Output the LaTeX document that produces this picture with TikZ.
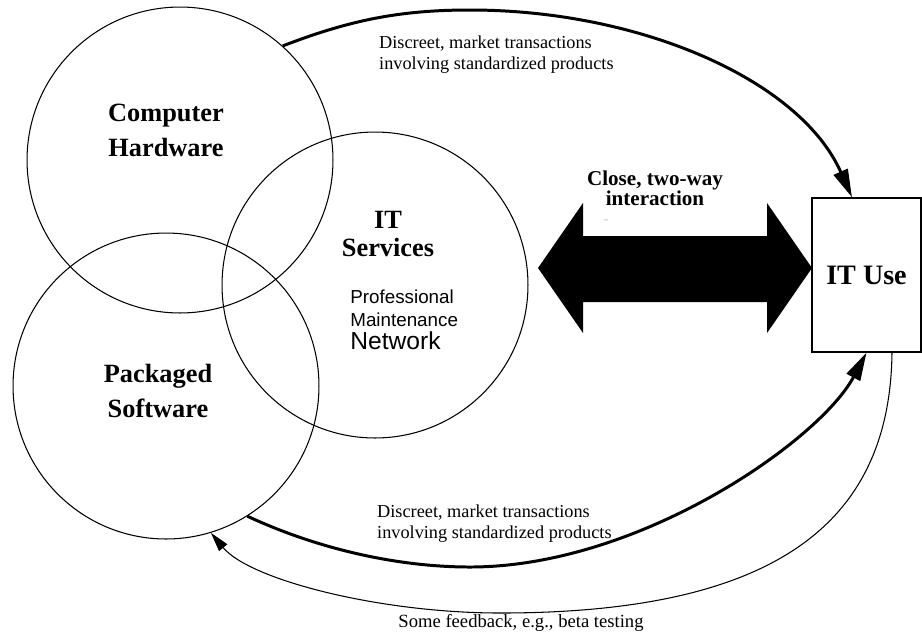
\documentclass[tikz,border=0pt]{standalone}
\usepackage{fontspec}
\setmainfont{Liberation Serif}
\newfontfamily\arialfnt{Liberation Sans}
\usetikzlibrary{arrows.meta}

\begin{document}
\begin{tikzpicture}[x=0.02cm, y=-0.02cm,
  sector/.style={circle, draw, line width=0.6pt, minimum size=6.12cm, inner sep=0pt},
  bigtag/.style={font=\fontsize{15}{20}\selectfont\bfseries, align=center},
  note/.style={font=\fontsize{10.4}{12}\selectfont, align=left, anchor=west},
  market/.style={line width=1.7pt, -{Triangle[length=16pt, width=8.5pt]}}]

\useasboundingbox (0,0) rectangle (922,637);

% ---- the three supply sectors ----
\node[sector] (hw) at (180,160) {};
\node[sector] (its) at (375,285) {};
\node[sector] (sw) at (166,386) {};

\node[bigtag] (hwtag) at (166,130) {Computer\\Hardware};
\node[bigtag] (swtag) at (158,391) {Packaged\\Software};
\node[bigtag, font=\fontsize{15}{16}\selectfont\bfseries] (itstag) at (388,234) {IT\\Services};
\node[anchor=north west, align=left, inner sep=0pt, font=\arialfnt\fontsize{10.7}{13}\selectfont] (itslist) at (350,290)
  {Professional\\Maintenance\\{\fontsize{14}{14}\selectfont Network}};

% ---- user side ----
\node[draw, line width=0.7pt, minimum width=2.18cm, minimum height=3.08cm, font=\fontsize{16}{16}\selectfont\bfseries] (use) at (866.5,275) {IT Use};

% ---- close interaction ----
\fill (538,268) -- (583,203) -- (583,236) -- (767,236) -- (767,203) -- (812,268)
  -- (767,333) -- (767,302) -- (583,302) -- (583,333) -- cycle;
\node[font=\fontsize{12}{11.5}\selectfont\bfseries, align=center] (closetag) at (655,188) {Close, two-way\\interaction};
\node[font=\tiny, text=gray] (dash) at (606,221) {--};

% ---- market transactions ----
\draw[market] (hw.48) .. controls (350,20) and (400,10) .. (470,10)
  .. controls (640,10) and (800,80) .. ([xshift=-0.29cm]use.north);
\node[note] (toptag) at (373,55) {Discreet, market transactions\\involving standardized products};

\draw[market] (sw.-58) .. controls (320,550) and (400,567) .. (470,567)
  .. controls (640,567) and (820,440) .. (use.south);
\node[note] (bottag) at (371,524) {Discreet, market transactions\\involving standardized products};

% ---- feedback ----
\draw[line width=0.6pt, -{Triangle[length=11pt, width=6pt]}] ([xshift=0.51cm]use.south)
  .. controls (890,520) and (780,613) .. (500,613)
  .. controls (380,613) and (250,580) .. (sw.-73);
\node[font=\fontsize{10.6}{12}\selectfont] (fbtag) at (521,623) {Some feedback, e.g., beta testing};

\end{tikzpicture}
\end{document}
